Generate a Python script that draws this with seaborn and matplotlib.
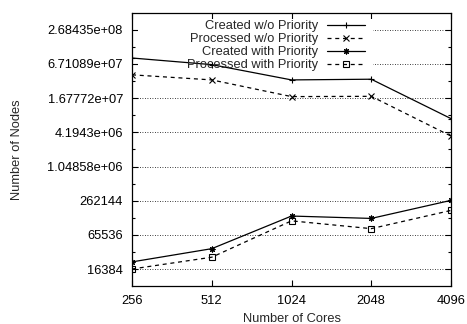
import numpy as np
import pandas as pd
import matplotlib
matplotlib.use("Agg")
import matplotlib.pyplot as plt
import matplotlib.ticker as mticker
from matplotlib.patches import Rectangle
import seaborn as sns

# data
cores = [256, 512, 1024, 2048, 4096]
created_wo = [8.5e7, 6.5e7, 3.5e7, 3.6e7, 7.3e6]
processed_wo = [4.3e7, 3.5e7, 1.78e7, 1.8e7, 3.6e6]
created_w = [22000, 37600, 141000, 128000, 266000]
processed_w = [16500, 26600, 116000, 84600, 177000]

series = ["Created w/o Priority", "Processed w/o Priority",
          "Created with Priority", "Processed with Priority"]
y_ticks = [16384, 65536, 262144, 1048576, 4194304, 16777216, 67108864, 268435456]
y_minor = [32768, 131072, 524288, 2097152, 8388608, 33554432, 134217728]

df = pd.DataFrame({
    "cores": cores * 4,
    "nodes": created_wo + processed_wo + created_w + processed_w,
    "series": [s for s in series for _ in cores],
})

sns.set_style("ticks")
plt.rcParams["font.family"] = ["Liberation Sans", "DejaVu Sans"]
plt.rcParams["font.size"] = 9.3

fig = plt.figure(figsize=(4.67, 3.24), dpi=100)
ax = fig.add_axes([0.2827, 0.1164, 0.6830, 0.8450])

markers = ["+", "x", (8, 2, 0), "s"]
styles = ["-", (0, (3.2, 3)), "-", (0, (3.2, 3))]
msizes = [5, 4.2, 4.2, 3.8]

for name, mk, ls, ms in zip(series, markers, styles, msizes):
    sns.lineplot(data=df[df["series"] == name], x="cores", y="nodes",
                 color="black", linewidth=0.9, linestyle=ls, marker=mk,
                 markersize=ms, markeredgecolor="black", markerfacecolor="none",
                 markeredgewidth=0.8, errorbar=None, label=name, ax=ax)

ax.set_xscale("log", base=2)
ax.set_yscale("log", base=2)
ax.set_xlim(256, 4096)
ax.set_ylim(8192, 536870912)
ax.xaxis.set_major_locator(mticker.FixedLocator(cores))
ax.xaxis.set_minor_locator(mticker.NullLocator())
ax.xaxis.set_major_formatter(mticker.FuncFormatter(lambda v, p: "%g" % v))
ax.yaxis.set_major_locator(mticker.FixedLocator(y_ticks))
ax.yaxis.set_minor_locator(mticker.FixedLocator(y_minor))
ax.yaxis.set_major_formatter(mticker.FuncFormatter(lambda v, p: "%g" % v))
ax.yaxis.set_minor_formatter(mticker.NullFormatter())

ax.tick_params(which="both", direction="in", top=True, right=True, colors="black",
               labelsize=9.3, width=0.8)
ax.tick_params(which="major", length=4)
ax.tick_params(which="minor", length=2)
ax.tick_params(axis="x", pad=6)
ax.tick_params(axis="y", pad=6.5)
for sp in ax.spines.values():
    sp.set_color("black")
    sp.set_linewidth(0.9)

ax.set_axisbelow(True)
ax.yaxis.grid(True, which="major", color="black", linestyle=(0, (1, 2)), linewidth=0.6)
ax.xaxis.grid(False)

# gnuplot-style opaque key area
ax.add_patch(Rectangle((0.02, 0.785), 0.735, 0.193, transform=ax.transAxes,
                       facecolor="white", edgecolor="none", zorder=1))

ax.legend(handles=ax.lines[:4], labels=series, loc="upper right",
          bbox_to_anchor=(0.73, 0.972), frameon=False, markerfirst=False,
          handlelength=2.9, handletextpad=0.7, labelspacing=0.08,
          borderpad=0, borderaxespad=0, fontsize=9.3)

ax.set_xlabel("Number of Cores", fontsize=9.3, va="center")
ax.set_ylabel("Number of Nodes", fontsize=9.3, va="center")
ax.xaxis.set_label_coords(0.5, -0.119)
ax.yaxis.set_label_coords(-0.36, 0.5)

fig.savefig("out.png", dpi=100)
